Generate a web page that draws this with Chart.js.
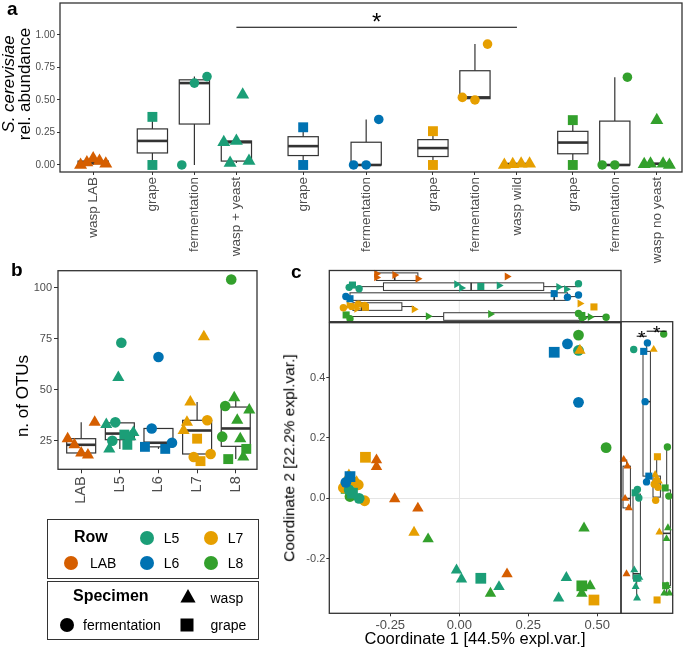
<!DOCTYPE html>
<html><head><meta charset="utf-8">
<script src="https://cdn.jsdelivr.net/npm/chart.js@4.4.1/dist/chart.umd.min.js"></script>
<style>
html,body{margin:0;padding:0;background:#fff}
#page{position:relative;width:685px;height:650px;overflow:hidden;font-family:"Liberation Sans",Arial,Helvetica,sans-serif;color:#000}
canvas{position:absolute;left:0;top:0}
.lbl{position:absolute;white-space:nowrap;line-height:1}
.c{transform:translate(-50%,-50%)}
.rot{transform:translate(-50%,-50%) rotate(-90deg)}
.lgbox{position:absolute;border:1.3px solid #333;box-sizing:border-box}
svg.sym{position:absolute;overflow:visible}
.lt{position:absolute;white-space:nowrap;line-height:1;font-size:14px;transform:translateY(-50%)}
</style></head><body><div id="page">
<canvas id="cA" width="685" height="650"></canvas>
<canvas id="cB" width="685" height="650"></canvas>
<canvas id="cC" width="685" height="650"></canvas>
<canvas id="cCT" width="685" height="650"></canvas>
<canvas id="cCR" width="685" height="650"></canvas>

<div class="lbl" style="left:7px;top:-1px;font-weight:bold;font-size:19px">a</div>
<div class="lbl" style="left:11px;top:260px;font-weight:bold;font-size:19px">b</div>
<div class="lbl" style="left:291px;top:262px;font-weight:bold;font-size:19px">c</div>

<div class="lbl rot" style="left:17px;top:84px;font-size:17px;text-align:center;line-height:16px"><i>S. cerevisiae</i><br>rel. abundance</div>
<div class="lbl rot" style="left:22px;top:396px;font-size:17px">n. of OTUs</div>
<div class="lbl rot" style="left:289px;top:458px;font-size:15.5px">Coordinate 2 [22.2% expl.var.]</div>
<div class="lbl c" style="left:475px;top:638px;font-size:16.5px">Coordinate 1 [44.5% expl.var.]</div>

<div class="lgbox" style="left:47px;top:519px;width:212px;height:60px"></div>
<div class="lgbox" style="left:47px;top:581px;width:212px;height:59px"></div>
<div id="legend"></div>

<script>
// ---------------- colours / shapes (style) ----------------
const ROW_COLORS = {LAB:'#D55E00', L5:'#1B9E77', L6:'#0072B2', L7:'#E69F00', L8:'#33A02C'};
const SHAPE = {fermentation:'circle', grape:'rect', wasp:'triangle'};
const FONT = '"Liberation Sans", Arial, Helvetica, sans-serif';

// ---------------- panel a data ----------------
const aCategories = ['wasp LAB','grape','fermentation','wasp + yeast','grape','fermentation','grape','fermentation','wasp wild','grape','fermentation','wasp no yeast'];
const aRows = ['LAB','L5','L5','L5','L6','L6','L7','L7','L7','L8','L8','L8'];
const aSpecimen = ['wasp','grape','fermentation','wasp','grape','fermentation','grape','fermentation','wasp','grape','fermentation','wasp'];
const aWaspLAB = [0, 0.02, 0.05, 0.03, 0.01];
const aGrapeL5 = [0.37, 0];
const aFermL5 = [0, 0.63, 0.68];
const aWaspYeastL5 = [0.175, 0.015, 0.185, 0.54, 0.03];
const aGrapeL6 = [0.29, 0];
const aFermL6 = [0, 0, 0.35];
const aGrapeL7 = [0.26, 0];
const aFermL7 = [0.52, 0.5, 0.93];
const aWaspWildL7 = [0, 0.005, 0.01, 0.01];
const aGrapeL8 = [0.345, 0];
const aFermL8 = [0, 0, 0.675];
const aWaspNoYeastL8 = [0.005, 0.01, 0.345, 0.01, 0];
const aValues = [aWaspLAB, aGrapeL5, aFermL5, aWaspYeastL5, aGrapeL6, aFermL6, aGrapeL7, aFermL7, aWaspWildL7, aGrapeL8, aFermL8, aWaspNoYeastL8];
const aYTicks = [0, 0.25, 0.5, 0.75, 1];
const aSignif = {from: 3, to: 8, y: 1.06, label: '*'};

// ---------------- panel b data ----------------
const bRows = ['LAB','L5','L6','L7','L8'];
const bOTU_LAB = [26, 23, 19, 18, 34];
const bSpec_LAB = ['wasp','wasp','wasp','wasp','wasp'];
const bOTU_L5 = [33, 21, 25, 34, 56, 73, 28, 23, 27, 29];
const bSpec_L5 = ['wasp','wasp','fermentation','fermentation','wasp','fermentation','grape','grape','wasp','wasp'];
const bOTU_L6 = [22, 31, 66, 21, 24];
const bSpec_L6 = ['grape','fermentation','fermentation','grape','fermentation'];
const bOTU_L7 = [30, 34, 44, 17, 26, 15, 76, 35, 18.5];
const bSpec_L7 = ['wasp','wasp','wasp','fermentation','grape','grape','wasp','fermentation','fermentation'];
const bOTU_L8 = [27, 42, 16, 104, 46, 35, 26, 17, 21, 40];
const bSpec_L8 = ['fermentation','fermentation','grape','fermentation','wasp','wasp','wasp','wasp','grape','wasp'];
const bOTUs = [bOTU_LAB, bOTU_L5, bOTU_L6, bOTU_L7, bOTU_L8];
const bSpecs = [bSpec_LAB, bSpec_L5, bSpec_L6, bSpec_L7, bSpec_L8];
const bYTicks = [25, 50, 75, 100];

// ---------------- panel c data (PCoA) ----------------
const cRow = ['L7','L6','L6','L6','L6','L6','L5','L5','L5','L5','L5','L5','L5','L5','L5','L5',
  'L7','L7','L7','L7','L7','L7','L7','L7','L7','LAB','LAB','LAB','LAB','LAB',
  'L8','L8','L8','L8','L8','L8','L8','L8','L8','L8'];
const cSpecimen = ['wasp','grape','fermentation','fermentation','grape','fermentation',
  'fermentation','fermentation','grape','fermentation','grape','wasp','wasp','wasp','wasp','wasp',
  'grape','wasp','wasp','fermentation','fermentation','fermentation','fermentation','wasp','grape',
  'wasp','wasp','wasp','wasp','wasp',
  'fermentation','fermentation','grape','fermentation','wasp','wasp','wasp','grape','wasp','wasp'];
const cCoord1 = [0.437, 0.344, 0.392, 0.432, -0.396, -0.411,
  0.432, -0.399, -0.387, -0.363, 0.078, -0.010, 0.008, 0.144, 0.388, 0.360,
  -0.340, -0.400, -0.372, -0.390, -0.366, -0.420, -0.343, -0.164, 0.488,
  -0.300, -0.300, -0.234, -0.150, 0.173,
  0.432, 0.532, -0.410, -0.396, -0.113, 0.113, 0.452, 0.444, 0.444, 0.474];
const cCoord2 = [0.490, 0.484, 0.512, 0.318, 0.072, 0.053,
  0.490, 0.028, 0.017, 0.000, -0.265, -0.238, -0.268, -0.293, -0.263, -0.331,
  0.136, 0.077, 0.055, 0.058, 0.045, 0.035, -0.008, -0.113, -0.337,
  0.127, 0.105, -0.002, -0.033, -0.251,
  0.541, 0.168, 0.033, 0.006, -0.135, -0.315, -0.099, -0.290, -0.315, -0.290];
const cXTicks = [-0.25, 0, 0.25, 0.5];
const cYTicks = [-0.2, 0, 0.2, 0.4];
const cRowOrder = ['LAB','L5','L6','L7','L8'];
const cSignif = [{from:'L5', to:'L6', label:'*'}, {from:'L6', to:'L8', label:'*'}];

// ---------------- layout (positions / sizes) ----------------
const W = 685, H = 650;
const A_AREA = {l:60, t:3, r:682, b:172};
const B_AREA = {l:58, t:270.7, r:257, b:469.3};
const C_AREA = {l:329.3, t:322.7, r:621, b:613.3};
const CT_AREA = {l:329.3, t:270.5, r:621, b:321.7};
const CR_AREA = {l:621, t:321.7, r:672.7, b:613.3};
const A_GROUP_CENTER = {LAB:0.79, L5:3.2, L6:6.54, L7:9.88, L8:13.21};
const A_GROUP_WIDTH = 3;
const SIZE_A = {fermentation:4.8, grape:7, wasp:7.5};
const SIZE_B = {fermentation:5.3, grape:7, wasp:7};
const SIZE_C = {fermentation:5.4, grape:7.6, wasp:6.6};
const SIZE_M = {fermentation:3.7, grape:5, wasp:4.6};

// ---------------- helpers ----------------
function quantile(s, p){ const h=(s.length-1)*p, lo=Math.floor(h), hi=Math.ceil(h); return s[lo]+(h-lo)*(s[hi]-s[lo]); }
function boxStats(vals){
  const s=[...vals].sort((a,b)=>a-b);
  const q1=quantile(s,.25), med=quantile(s,.5), q3=quantile(s,.75), iqr=q3-q1;
  const lo=s.find(v=>v>=q1-1.5*iqr-1e-12);
  const hi=[...s].reverse().find(v=>v<=q3+1.5*iqr+1e-12);
  return {q1,med,q3,lo,hi};
}
function padFor(ar, axes){
  return axes ? {left:0, top:ar.t, right:W-ar.r, bottom:0} : {left:ar.l, top:ar.t, right:W-ar.r, bottom:H-ar.b};
}
function axisScale(ar, axis, cfg){
  const isX = axis==='x';
  return {
    type:'linear', position: isX?'bottom':'left', min:cfg.min, max:cfg.max,
    afterFit: s=>{ if(isX){ s.height=H-ar.b; s.paddingLeft=0; s.paddingRight=0; } else { s.width=ar.l; s.paddingTop=0; s.paddingBottom=0; } },
    afterBuildTicks: s=>{ s.ticks = cfg.ticks.map(v=>({value:v})); },
    grid:{display:true, drawOnChartArea: !!cfg.zeroGrid,
      color: cfg.zeroGrid ? (c=>(c.tick && Math.abs(c.tick.value)<1e-9) ? '#E5E5E5' : 'rgba(0,0,0,0)') : 'rgba(0,0,0,0)',
      lineWidth:1, drawTicks:true, tickLength:cfg.tl, tickColor:'#333333', tickWidth:1},
    border:{display:false},
    ticks:{autoSkip:false, color:'#4D4D4D', font:{family:FONT, size:cfg.fs}, padding:cfg.pad,
      minRotation:cfg.rot||0, maxRotation:cfg.rot||0, callback:cfg.fmt}
  };
}
function hiddenScale(cfg){ return {type:'linear', display:false, min:cfg.min, max:cfg.max, reverse:!!cfg.reverse}; }
function drawBoxes(ctx, boxes, catScale, valScale, vertical, lw, medLw){
  boxes.forEach(b=>{
    const c=catScale.getPixelForValue(b.pos);
    const w=Math.abs(catScale.getPixelForValue(b.pos+b.hw)-c);
    const P=v=>valScale.getPixelForValue(v);
    const q1=P(b.st.q1), q3=P(b.st.q3), md=P(b.st.med), lo=P(b.st.lo), hi=P(b.st.hi);
    ctx.save(); ctx.strokeStyle='#333333'; ctx.lineWidth=lw;
    const line=(a1,v1,a2,v2)=>{ ctx.beginPath(); if(vertical){ctx.moveTo(a1,v1);ctx.lineTo(a2,v2);} else {ctx.moveTo(v1,a1);ctx.lineTo(v2,a2);} ctx.stroke(); };
    line(c,q3,c,hi); line(c,q1,c,lo);
    const s=Math.min(q1,q3), h=Math.abs(q3-q1);
    ctx.fillStyle='#fff';
    if(vertical){ ctx.fillRect(c-w,s,2*w,h); ctx.strokeRect(c-w,s,2*w,h); }
    else { ctx.fillRect(s,c-w,h,2*w); ctx.strokeRect(s,c-w,h,2*w); }
    ctx.strokeStyle='#333333'; ctx.lineWidth=medLw; line(c-w,md,c+w,md);
    ctx.restore();
  });
}
const framePlugin = {id:'frame', afterDatasetsDraw(chart){
  const a=chart.chartArea, c=chart.ctx; c.save(); c.strokeStyle='#333333'; c.lineWidth=1.3;
  c.strokeRect(a.left,a.top,a.right-a.left,a.bottom-a.top); c.restore(); }};
const common = {responsive:false, animation:false, events:[], plugins:{legend:{display:false}, tooltip:{enabled:false}}};
function layoutFor(ar, axes){ return {autoPadding:false, padding:padFor(ar, axes)}; }
function pointDS(points, specimen, row, sizes, rot){
  return {data:points, pointStyle:SHAPE[specimen], pointRadius:sizes[specimen], pointRotation:rot||0,
    pointBackgroundColor:ROW_COLORS[row], pointBorderWidth:0, showLine:false, clip:false};
}

// ---------------- panel a ----------------
const aPos = aCategories.map((_, i)=>{
  const row=aRows[i]; const members=aRows.map((r,j)=>r===row?j:-1).filter(j=>j>=0);
  const n=members.length, k=members.indexOf(i);
  return A_GROUP_CENTER[row] + (k-(n-1)/2)*A_GROUP_WIDTH/n;
});
const jitA=(k,n)=> n<=2 ? 0 : -0.3+0.6*k/(n-1);
const aBoxes = aValues.map((v,i)=>({pos:aPos[i], hw:0.36, st:boxStats(v)}));
const aDatasets = aValues.map((vals,i)=>pointDS(vals.map((v,k)=>({x:aPos[i]+jitA(k,vals.length), y:v})), aSpecimen[i], aRows[i], SIZE_A));
new Chart(document.getElementById('cA'), {
  type:'scatter', data:{datasets:aDatasets},
  options:Object.assign({}, common, {layout:layoutFor(A_AREA,true),
    scales:{
      x: axisScale(A_AREA,'x',{min:0, max:14.81, ticks:aPos, tl:3, pad:2, fs:13.5, rot:90, fmt:(v,i)=>aCategories[i]}),
      y: axisScale(A_AREA,'y',{min:-0.054, max:1.246, ticks:aYTicks, tl:3, pad:2, fs:10, fmt:v=>v.toFixed(2)})
    }}),
  plugins:[
    {id:'boxA', beforeDatasetsDraw(ch){ drawBoxes(ch.ctx, aBoxes, ch.scales.x, ch.scales.y, true, 1.2, 2.6); }},
    framePlugin,
    {id:'sigA', afterDatasetsDraw(ch){
      const c=ch.ctx, x1=ch.scales.x.getPixelForValue(aPos[aSignif.from]), x2=ch.scales.x.getPixelForValue(aPos[aSignif.to]);
      const y=ch.scales.y.getPixelForValue(aSignif.y);
      c.save(); c.strokeStyle='#000'; c.lineWidth=1.1; c.beginPath(); c.moveTo(x1,y); c.lineTo(x2,y); c.stroke();
      c.fillStyle='#000'; c.font='24px '+FONT; c.textAlign='center'; c.textBaseline='alphabetic';
      c.fillText(aSignif.label,(x1+x2)/2,y+3); c.restore(); }}
  ]
});

// ---------------- panel b ----------------
const jitB=(k,n)=> n<=1 ? 0 : -0.35+0.7*k/(n-1);
const bBoxes = bOTUs.map((v,i)=>({pos:i, hw:0.375, st:boxStats(v)}));
const bDatasets = [];
bOTUs.forEach((vals,i)=>vals.forEach((v,k)=>bDatasets.push(pointDS([{x:i+jitB(k,vals.length), y:v}], bSpecs[i][k], bRows[i], SIZE_B))));
new Chart(document.getElementById('cB'), {
  type:'scatter', data:{datasets:bDatasets},
  options:Object.assign({}, common, {layout:layoutFor(B_AREA,true),
    scales:{
      x: axisScale(B_AREA,'x',{min:-0.6, max:4.55, ticks:[0,1,2,3,4], tl:4, pad:3, fs:14.5, rot:90, fmt:(v,i)=>bRows[i]}),
      y: axisScale(B_AREA,'y',{min:11.0, max:108.3, ticks:bYTicks, tl:4, pad:2, fs:11, fmt:v=>String(v)})
    }}),
  plugins:[{id:'boxB', beforeDatasetsDraw(ch){ drawBoxes(ch.ctx, bBoxes, ch.scales.x, ch.scales.y, true, 1.2, 2.6); }}, framePlugin]
});

// ---------------- panel c main ----------------
const cDatasets = cRow.map((r,i)=>pointDS([{x:cCoord1[i], y:cCoord2[i]}], cSpecimen[i], r, SIZE_C));
new Chart(document.getElementById('cC'), {
  type:'scatter', data:{datasets:cDatasets},
  options:Object.assign({}, common, {layout:layoutFor(C_AREA,true),
    scales:{
      x: axisScale(C_AREA,'x',{min:-0.471, max:0.586, ticks:cXTicks, tl:3, pad:1, fs:13, zeroGrid:true, fmt:v=>v.toFixed(2)}),
      y: axisScale(C_AREA,'y',{min:-0.381, max:0.582, ticks:cYTicks, tl:3, pad:1, fs:11, zeroGrid:true, fmt:v=>v.toFixed(1)})
    }}),
  plugins:[framePlugin]
});

// ---------------- marginal boxplots ----------------
const jitM = k => (((k*0.618034)%1)-0.5)*0.6;
const rowIdx = r => cRowOrder.indexOf(r);
const byRow = cRowOrder.map(r=>cRow.map((x,i)=>x===r?i:-1).filter(i=>i>=0));
// top: Coordinate 1 per row
const ctBoxes = byRow.map((ids,ri)=>({pos:ri, hw:0.38, st:boxStats(ids.map(i=>cCoord1[i]))}));
const ctDatasets = [];
byRow.forEach((ids,ri)=>ids.forEach((i,k)=>ctDatasets.push(pointDS([{x:cCoord1[i], y:ri+jitM(k)}], cSpecimen[i], cRow[i], SIZE_M, 90))));
new Chart(document.getElementById('cCT'), {
  type:'scatter', data:{datasets:ctDatasets},
  options:Object.assign({}, common, {layout:layoutFor(CT_AREA,false),
    scales:{ x: hiddenScale({min:-0.471, max:0.586}), y: hiddenScale({min:-0.62, max:4.52, reverse:true}) }}),
  plugins:[{id:'boxT', beforeDatasetsDraw(ch){
      const c=ch.ctx, x0=ch.scales.x.getPixelForValue(0), a=ch.chartArea;
      c.save(); c.strokeStyle='#E5E5E5'; c.lineWidth=1; c.beginPath(); c.moveTo(x0,a.top); c.lineTo(x0,a.bottom); c.stroke(); c.restore();
      drawBoxes(ch.ctx, ctBoxes, ch.scales.y, ch.scales.x, false, 1, 1.6); }}, framePlugin]
});
// right: Coordinate 2 per row
const crBoxes = byRow.map((ids,ri)=>({pos:ri, hw:0.37, st:boxStats(ids.map(i=>cCoord2[i]))}));
const crDatasets = [];
byRow.forEach((ids,ri)=>ids.forEach((i,k)=>crDatasets.push(pointDS([{x:ri+jitM(k), y:cCoord2[i]}], cSpecimen[i], cRow[i], SIZE_M))));
new Chart(document.getElementById('cCR'), {
  type:'scatter', data:{datasets:crDatasets},
  options:Object.assign({}, common, {layout:layoutFor(CR_AREA,false),
    scales:{ x: hiddenScale({min:-0.57, max:4.6}), y: hiddenScale({min:-0.381, max:0.582}) }}),
  plugins:[{id:'boxR', beforeDatasetsDraw(ch){
      const c=ch.ctx, y0=ch.scales.y.getPixelForValue(0), a=ch.chartArea;
      c.save(); c.strokeStyle='#E5E5E5'; c.lineWidth=1; c.beginPath(); c.moveTo(a.left,y0); c.lineTo(a.right,y0); c.stroke(); c.restore();
      drawBoxes(ch.ctx, crBoxes, ch.scales.x, ch.scales.y, true, 1, 1.6); }},
    framePlugin,
    {id:'sigR', afterDatasetsDraw(ch){
      const c=ch.ctx, a=ch.chartArea; c.save(); c.strokeStyle='#000'; c.fillStyle='#000'; c.lineWidth=1;
      c.font='19px '+FONT; c.textAlign='center'; c.textBaseline='alphabetic';
      cSignif.forEach((s,j)=>{
        const x1=ch.scales.x.getPixelForValue(rowIdx(s.from)), x2=ch.scales.x.getPixelForValue(rowIdx(s.to));
        const y=a.top+14.5-5*j;
        c.beginPath(); c.moveTo(x1,y); c.lineTo(x2,y); c.stroke();
        c.fillText(s.label,(x1+x2)/2,y+8);
      });
      c.restore(); }}]
});

// ---------------- legend (HTML) ----------------
const lg = document.getElementById('legend');
function sym(shape, color, cx, cy){
  let inner;
  if(shape==='circle') inner=`<circle cx="0" cy="0" r="7" fill="${color}"/>`;
  else if(shape==='rect') inner=`<rect x="-6.5" y="-6.5" width="13" height="13" fill="${color}"/>`;
  else inner=`<polygon points="0,-8 7.6,5.5 -7.6,5.5" fill="${color}"/>`;
  return `<svg class="sym" width="1" height="1" style="left:${cx}px;top:${cy}px">${inner}</svg>`;
}
let html = '';
html += `<div class="lt" style="left:74px;top:537px;font-size:16px;font-weight:bold">Row</div>`;
const legendRows = [['L5',146.7,538],['L7',210.7,538],['LAB',71,562.5],['L6',146.7,562.5],['L8',210.7,562.5]];
legendRows.forEach(([r,x,y])=>{ html += sym('circle', ROW_COLORS[r], x, y) + `<div class="lt" style="left:${x+(r==='LAB'?19:17)}px;top:${y}px">${r}</div>`; });
html += `<div class="lt" style="left:73px;top:596px;font-size:16px;font-weight:bold">Specimen</div>`;
html += sym('triangle', '#000', 187.7, 597) + `<div class="lt" style="left:210.5px;top:598px">wasp</div>`;
html += sym('circle', '#000', 66.7, 625) + `<div class="lt" style="left:83px;top:625px">fermentation</div>`;
html += sym('rect', '#000', 187.3, 625) + `<div class="lt" style="left:210.5px;top:625px">grape</div>`;
lg.innerHTML = html;
</script>
</div></body></html>
